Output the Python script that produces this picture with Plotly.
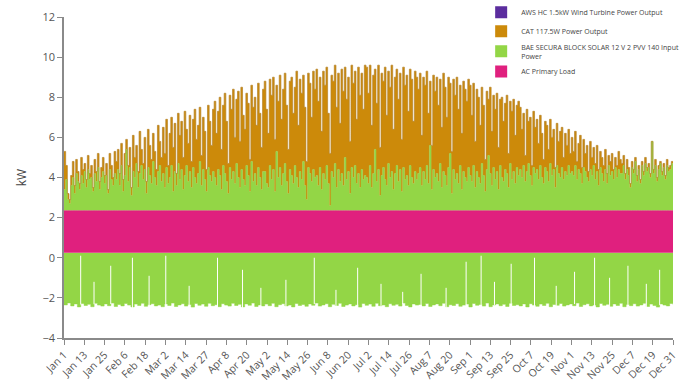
import plotly.graph_objects as go

# ---------------- data (one value per day) ----------------
# top of the stacked CAT output (kW), Jan..Dec
cat_jan = [5.3, 4.6, 3.2, 2.9, 4.1, 4.8, 3.6, 4.9, 4.3, 3.7, 5.0, 4.4, 4.7, 3.9, 5.1, 4.2, 4.6, 3.5, 4.9, 4.3, 5.2, 3.8, 4.5, 5.0, 4.1, 4.7, 3.4, 5.2, 4.6, 4.0, 5.3]
cat_feb = [4.8, 5.4, 4.2, 5.7, 3.9, 5.2, 5.9, 4.6, 5.5, 3.5, 6.1, 5.0, 5.6, 4.3, 6.3, 5.4, 4.7, 6.0, 3.8, 6.4, 5.6, 4.9, 6.2, 5.3, 4.4, 6.6, 5.8, 5.0]
cat_mar = [6.5, 5.2, 6.9, 4.6, 6.2, 7.0, 5.5, 6.7, 4.2, 7.2, 6.1, 6.8, 5.0, 7.3, 6.4, 5.7, 7.1, 4.8, 6.9, 7.4, 5.9, 6.6, 7.5, 5.1, 7.0, 6.3, 4.4, 7.6, 6.8, 5.6, 7.4]
cat_apr = [7.8, 6.2, 7.3, 8.0, 5.4, 7.6, 8.2, 6.8, 4.7, 8.1, 7.4, 8.4, 6.0, 7.9, 8.3, 5.8, 8.5, 7.1, 6.4, 8.2, 7.7, 4.9, 8.6, 7.5, 8.0, 6.6, 8.7, 7.2, 5.5, 8.4]
cat_may = [8.8, 7.4, 6.2, 8.9, 8.1, 9.0, 5.9, 8.6, 7.8, 9.1, 6.9, 8.4, 9.2, 7.6, 5.4, 8.8, 9.0, 7.2, 8.5, 9.3, 6.6, 8.9, 8.2, 9.1, 7.5, 4.8, 9.2, 8.7, 7.0, 9.3, 8.4]
cat_jun = [9.4, 7.8, 9.0, 6.3, 9.3, 8.6, 9.5, 7.2, 5.2, 9.1, 8.8, 9.6, 7.5, 9.2, 6.7, 9.4, 8.3, 9.5, 7.9, 9.0, 5.8, 9.6, 8.7, 9.3, 6.9, 9.5, 8.1, 9.2, 7.4, 9.6]
cat_jul = [9.5, 8.2, 9.6, 6.6, 9.1, 9.4, 7.7, 9.6, 5.5, 9.2, 8.8, 9.5, 7.1, 9.3, 8.5, 9.6, 6.4, 9.0, 9.4, 7.9, 9.2, 5.9, 9.5, 8.6, 9.1, 7.3, 9.4, 8.9, 6.8, 9.3, 9.0]
cat_aug = [8.4, 9.2, 6.1, 9.0, 8.6, 9.3, 7.2, 8.8, 5.6, 9.1, 8.3, 9.0, 7.6, 8.9, 6.5, 9.2, 8.5, 7.0, 9.0, 8.7, 5.3, 8.9, 8.1, 9.0, 7.4, 8.6, 6.2, 8.8, 8.4, 7.8, 8.9]
cat_sep = [8.6, 7.1, 8.7, 5.8, 8.4, 8.0, 6.6, 8.5, 7.6, 4.9, 8.3, 7.9, 8.5, 6.3, 8.1, 7.4, 8.2, 5.5, 7.9, 8.0, 6.8, 7.7, 8.1, 5.2, 7.8, 7.3, 7.9, 6.1, 7.6, 7.8]
cat_oct = [7.5, 6.4, 7.2, 5.1, 7.4, 6.8, 7.0, 4.6, 7.3, 6.5, 6.9, 5.7, 7.1, 6.2, 4.9, 6.8, 6.6, 5.4, 6.9, 6.0, 6.4, 4.5, 6.7, 5.8, 6.3, 6.5, 5.0, 6.2, 5.6, 6.4, 5.2]
cat_nov = [6.0, 5.3, 6.3, 4.8, 5.7, 6.1, 4.5, 5.9, 5.2, 5.6, 4.3, 5.8, 5.0, 5.5, 4.7, 5.6, 4.4, 5.3, 5.0, 4.6, 5.4, 4.2, 5.1, 4.8, 5.2, 4.4, 5.0, 4.6, 5.3, 4.9]
cat_dec = [4.7, 5.1, 4.2, 4.9, 4.5, 3.7, 4.8, 4.4, 5.0, 4.1, 4.6, 3.9, 4.8, 4.3, 5.0, 4.5, 4.7, 4.2, 5.8, 4.4, 4.9, 4.0, 4.6, 4.8, 4.3, 4.7, 4.1, 4.9, 4.5, 4.6, 4.8]

# top of the positive solar (PV) area (kW), Jan..Dec
pv_jan = [3.4, 3.9, 2.9, 2.7, 3.6, 4.0, 3.2, 4.2, 3.8, 3.4, 4.1, 3.7, 4.3, 3.5, 4.4, 3.9, 4.0, 3.3, 4.2, 3.8, 4.5, 3.4, 4.0, 4.3, 3.7, 4.1, 3.2, 4.4, 3.9, 3.6, 4.2]
pv_feb = [3.9, 4.4, 3.6, 4.6, 3.3, 4.1, 5.4, 3.8, 4.5, 3.1, 4.3, 4.0, 4.7, 3.5, 4.2, 4.6, 3.9, 4.4, 3.2, 4.5, 4.1, 3.7, 4.8, 4.0, 3.6, 4.3, 4.6, 3.8]
pv_mar = [4.2, 3.5, 4.5, 3.7, 4.0, 4.6, 3.3, 4.3, 3.6, 4.7, 3.9, 4.4, 3.4, 4.1, 4.6, 3.8, 4.3, 3.5, 4.5, 4.0, 3.7, 4.2, 4.8, 3.6, 4.4, 3.9, 3.3, 4.5, 4.1, 3.8, 4.3]
pv_apr = [4.0, 3.6, 4.4, 4.1, 3.4, 4.6, 4.2, 3.8, 3.2, 4.5, 3.9, 4.3, 3.7, 4.7, 4.0, 3.5, 4.4, 3.9, 3.6, 4.6, 4.1, 3.3, 4.8, 3.8, 4.2, 3.6, 4.5, 4.0, 3.4, 4.3]
pv_may = [4.3, 3.7, 3.5, 4.6, 3.9, 4.4, 3.3, 5.3, 4.0, 4.5, 3.6, 4.2, 4.7, 3.8, 3.2, 4.4, 4.1, 3.7, 4.6, 4.0, 3.5, 4.3, 3.9, 4.8, 3.6, 2.9, 4.5, 4.2, 3.8, 4.4, 4.0]
pv_jun = [4.1, 3.6, 4.5, 3.4, 4.2, 3.9, 4.6, 3.7, 2.6, 4.3, 4.0, 4.7, 3.5, 4.4, 3.8, 4.2, 3.6, 5.0, 3.9, 4.3, 3.2, 4.5, 4.0, 4.6, 3.7, 4.2, 3.5, 4.4, 3.9, 4.1]
pv_jul = [4.0, 3.7, 4.6, 3.5, 4.2, 5.4, 3.8, 4.4, 3.1, 4.1, 4.5, 3.9, 3.6, 4.7, 4.0, 4.3, 3.4, 4.2, 4.6, 3.8, 4.4, 3.3, 4.5, 3.9, 4.1, 3.6, 4.6, 4.0, 3.7, 4.3, 3.9]
pv_aug = [4.2, 4.5, 3.6, 4.3, 3.9, 4.6, 3.7, 5.6, 3.4, 4.4, 4.0, 4.2, 3.8, 4.7, 3.5, 4.3, 4.1, 3.6, 4.5, 5.2, 3.2, 4.4, 3.9, 4.2, 3.7, 4.6, 3.4, 4.3, 4.0, 3.8, 4.5]
pv_sep = [4.1, 3.8, 4.6, 3.5, 4.3, 4.0, 3.7, 4.7, 4.1, 3.3, 4.4, 5.1, 4.2, 3.6, 4.5, 3.9, 4.3, 3.4, 4.6, 4.0, 3.8, 4.4, 4.2, 3.5, 4.7, 3.9, 4.3, 3.7, 4.5, 4.1]
pv_oct = [4.4, 4.0, 4.6, 3.8, 4.3, 4.7, 4.1, 3.6, 4.5, 4.2, 4.4, 3.9, 4.6, 4.0, 3.7, 4.5, 4.3, 3.8, 4.7, 4.1, 4.4, 3.5, 4.6, 4.2, 4.0, 4.5, 3.9, 4.3, 4.1, 4.6, 4.2]
pv_nov = [4.3, 4.1, 4.6, 3.9, 4.4, 4.2, 3.7, 4.5, 4.3, 4.0, 3.8, 4.4, 4.1, 4.6, 3.9, 4.3, 3.6, 4.5, 4.2, 3.8, 4.4, 3.7, 4.6, 4.1, 4.3, 3.9, 4.5, 4.0, 4.4, 4.2]
pv_dec = [4.2, 4.6, 3.9, 4.4, 4.1, 3.5, 4.5, 4.2, 4.8, 3.8, 4.4, 3.7, 4.6, 4.1, 4.7, 4.3, 4.5, 4.0, 5.8, 4.2, 4.6, 3.8, 4.4, 4.7, 4.1, 4.5, 3.9, 4.6, 4.3, 4.4, 4.7]

# bottom of the negative solar (PV input) area (kW), one value every 2 days
pv_bottom = [
    -2.35, -2.25, -2.40, -2.30, -2.45, -2.28, -2.38, -2.32, -2.44, -2.27, -2.36, -2.41, -2.30, -2.39, -2.26, -2.43,
    -2.33, -2.40, -2.28, -2.36, -2.45, -2.31, -2.38, -2.27, -2.42, -2.34, -2.29, -2.40, -2.36, -2.44,
    -2.30, -2.38, -2.26, -2.43, -2.35, -2.29, -2.41, -2.33, -2.46, -2.28, -2.37, -2.31, -2.42, -2.27, -2.39,
    -2.34, -2.44, -2.29, -2.36, -2.41, -2.27, -2.38, -2.32, -2.45, -2.30, -2.37, -2.26, -2.43, -2.35, -2.40,
    -2.31, -2.39, -2.27, -2.44, -2.34, -2.29, -2.40, -2.36, -2.45, -2.28, -2.38, -2.33, -2.42, -2.30, -2.37, -2.26,
    -2.41, -2.35, -2.29, -2.44, -2.32, -2.38, -2.27, -2.43, -2.36, -2.30, -2.40, -2.34, -2.46, -2.28, -2.37,
    -2.31, -2.42, -2.27, -2.39, -2.35, -2.44, -2.29, -2.37, -2.32, -2.41, -2.26, -2.38, -2.45, -2.30, -2.36,
    -2.33, -2.40, -2.28, -2.43, -2.35, -2.30, -2.39, -2.27, -2.44, -2.34, -2.38, -2.29, -2.42, -2.36, -2.31, -2.45,
    -2.28, -2.37, -2.33, -2.41, -2.26, -2.44, -2.35, -2.30, -2.39, -2.32, -2.43, -2.27, -2.38, -2.34, -2.40,
    -2.30, -2.45, -2.29, -2.36, -2.42, -2.31, -2.38, -2.27, -2.44, -2.33, -2.37, -2.28, -2.41, -2.35, -2.30,
    -2.39, -2.26, -2.43, -2.34, -2.29, -2.40, -2.36, -2.45, -2.28, -2.37, -2.32, -2.42, -2.30, -2.38, -2.27,
    -2.44, -2.33, -2.39, -2.29, -2.41, -2.35, -2.27, -2.43, -2.31, -2.38, -2.46, -2.30, -2.36, -2.40, -2.28, -2.34,
]

# AC primary load band (kW)
load_bottom = 0.25
load_top = 2.35

# short dips in the negative solar area (day, top of the gap in kW)
gap_days = [10, 18, 28, 41, 51, 61, 75, 92, 107, 118, 133, 150, 163, 176, 190, 203,
            214, 229, 241, 250, 258, 268, 282, 295, 306, 318, 327, 338, 349, 357]
gap_tops = [0.1, -1.2, -0.4, 0.0, -0.9, 0.1, -1.4, 0.0, -0.6, -1.5, -1.1, 0.0, -1.6, -0.5, -1.3, -1.7,
            -0.8, -1.5, -0.2, 0.1, -1.2, -0.3, 0.0, -1.4, -0.7, 0.0, -1.0, -0.4, -1.3, -0.6]

tick_labels = ["Jan 1", "Jan 13", "Jan 25", "Feb 6", "Feb 18", "Mar 2", "Mar 14", "Mar 27",
               "Apr 8", "Apr 20", "May 2", "May 14", "May 26", "Jun 8", "Jun 20", "Jul 2",
               "Jul 14", "Jul 26", "Aug 7", "Aug 20", "Sep 1", "Sep 13", "Sep 25", "Oct 7",
               "Oct 19", "Nov 1", "Nov 13", "Nov 25", "Dec 7", "Dec 19", "Dec 31"]

series_names = ["AWS HC 1.5kW Wind Turbine Power Output",
                "CAT 117.5W Power Output",
                "BAE SECURA BLOCK SOLAR 12 V 2 PVV 140 Input<br>Power",
                "AC Primary Load"]

# ---------------- styling ----------------
PURPLE = "#5b2d9e"
ORANGE = "#cc8a0a"
GREEN = "#93d646"
MAGENTA = "#e0207e"

cat_top = (cat_jan + cat_feb + cat_mar + cat_apr + cat_may + cat_jun +
           cat_jul + cat_aug + cat_sep + cat_oct + cat_nov + cat_dec)
pv_top = (pv_jan + pv_feb + pv_mar + pv_apr + pv_may + pv_jun +
          pv_jul + pv_aug + pv_sep + pv_oct + pv_nov + pv_dec)
n = min(len(cat_top), len(pv_top))
days = [i * 365 / n for i in range(n)] + [365]
pv_top = pv_top[:n] + [pv_top[n - 1]]
cat_stack = [max(c, g) for c, g in zip(cat_top[:n], pv_top[:n])] + [max(cat_top[n - 1], pv_top[n - 1])]

m = len(pv_bottom)
days2 = [i * 365 / (m - 1) for i in range(m)]

fig = go.Figure()


def layer(x, y, fill=None, color=GREEN, width=0.0, lcolor=None):
    fig.add_trace(go.Scatter(x=x, y=y, mode="lines", line_shape="hv",
                             fill=fill, fillcolor=color if fill else None,
                             line=dict(width=width, color=lcolor or color),
                             showlegend=False, hoverinfo="skip"))


# negative solar area
layer(days2, [load_bottom] * m)
layer(days2, pv_bottom, fill="tonexty", color=GREEN, width=0.5)
# load band
layer(days, [load_bottom] * len(days), color=MAGENTA)
layer(days, [load_top] * len(days), fill="tonexty", color=MAGENTA, width=0.5)
# positive solar
layer(days, pv_top, fill="tonexty", color=GREEN, width=0.5)
# CAT output
layer(days, cat_stack, fill="tonexty", color=ORANGE, width=0.7, lcolor="#b5832a")

# gaps (white thin lines)
gx, gy = [], []
for d, t in zip(gap_days, gap_tops):
    b = pv_bottom[min(round(d * (m - 1) / 365), m - 1)]
    gx += [d, d, None]
    gy += [b - 0.05, t, None]
fig.add_trace(go.Scatter(x=gx, y=gy, mode="lines", line=dict(color="white", width=1),
                         showlegend=False, hoverinfo="skip"))

# legend entries
for name, col in zip(series_names, [PURPLE, ORANGE, GREEN, MAGENTA]):
    fig.add_trace(go.Scatter(x=[None], y=[None], mode="markers", name=name,
                             marker=dict(symbol="square", size=8, color=col)))

tickvals = [i * 365 / 30 for i in range(31)]

fig.update_layout(
    width=689, height=385,
    margin=dict(l=64, r=16, t=17, b=47, autoexpand=False),
    paper_bgcolor="white", plot_bgcolor="white",
    font=dict(family="Open Sans, sans-serif", color="#555555"),
    legend=dict(x=0.685, y=1.06, xanchor="left", yanchor="top", traceorder="normal",
                font=dict(size=7, color="#444444"), bgcolor="rgba(0,0,0,0)",
                itemsizing="constant", tracegroupgap=0),
    xaxis=dict(range=[0, 365], tickvals=tickvals, ticktext=tick_labels,
               tickangle=-45, tickfont=dict(size=10.5, color="#555555"),
               showgrid=False, zeroline=False, showline=True, linecolor="#8a8a8a",
               linewidth=1.5, ticks="outside", ticklen=5, tickcolor="#8a8a8a",
               automargin=False),
    yaxis=dict(range=[-4, 12], dtick=2, tickfont=dict(size=11, color="#555555"),
               showgrid=False, zeroline=False, showline=True, linecolor="#8a8a8a",
               linewidth=1.5, ticks="outside", ticklen=5, tickcolor="#8a8a8a",
               automargin=False,
               title=dict(text="kW", font=dict(size=12, color="#444444"), standoff=13)),
)

fig.write_html("out.html", config={"displayModeBar": False},
               post_script="document.body.style.margin='0';")
